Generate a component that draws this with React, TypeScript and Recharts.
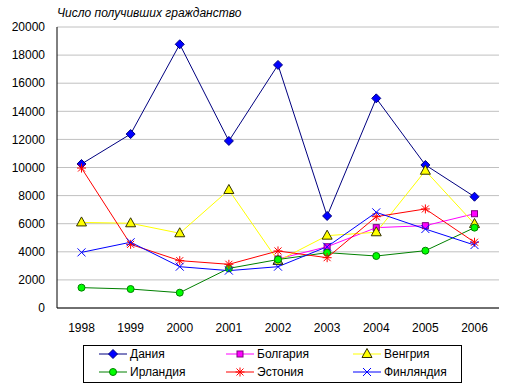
import { CartesianGrid, Line, LineChart, XAxis, YAxis } from "recharts";

const years = ["1998", "1999", "2000", "2001", "2002", "2003", "2004", "2005", "2006"];
const yTicks = [0, 2000, 4000, 6000, 8000, 10000, 12000, 14000, 16000, 18000, 20000];

const denmark = [10250, 12380, 18770, 11890, 17300, 6550, 14920, 10180, 7920];
const bulgaria = [null, null, null, null, 3490, 4360, 5720, 5860, 6710];
const hungary = [6090, 6030, 5320, 8400, 3350, 5150, 5390, 9770, 5980];
const ireland = [1450, 1350, 1090, 2820, 3450, 3940, 3700, 4080, 5720];
const estonia = [9960, 4530, 3370, 3110, 4060, 3580, 6500, 7050, 4680];
const finland = [3960, 4680, 2940, 2660, 2940, 4360, 6810, 5620, 4480];

const data = years.map((year, i) => ({
  year,
  dk: denmark[i],
  bg: bulgaria[i],
  hu: hungary[i],
  ie: ireland[i],
  ee: estonia[i],
  fi: finland[i],
}));

type Kind = "diamond" | "square" | "triangle" | "circle" | "star" | "cross";

function Marker({ kind, x, y }: { kind: Kind; x: number; y: number }) {
  switch (kind) {
    case "diamond":
      return (
        <polygon
          points={`${x},${y - 4.5} ${x + 4.5},${y} ${x},${y + 4.5} ${x - 4.5},${y}`}
          fill="#0000ff"
          stroke="#000080"
          strokeWidth={1}
        />
      );
    case "square":
      return <rect x={x - 3} y={y - 3} width={6} height={6} fill="#ff00ff" stroke="#800080" strokeWidth={1} />;
    case "triangle":
      return (
        <polygon
          points={`${x},${y - 5.5} ${x + 5},${y + 3.5} ${x - 5},${y + 3.5}`}
          fill="#ffff00"
          stroke="#333300"
          strokeWidth={1}
        />
      );
    case "circle":
      return <circle cx={x} cy={y} r={3.5} fill="#00ff00" stroke="#008000" strokeWidth={1} />;
    case "star":
      return (
        <g stroke="#ff0000" strokeWidth={1}>
          <line x1={x - 4.5} y1={y} x2={x + 4.5} y2={y} />
          <line x1={x} y1={y - 4.5} x2={x} y2={y + 4.5} />
          <line x1={x - 3.5} y1={y - 3.5} x2={x + 3.5} y2={y + 3.5} />
          <line x1={x - 3.5} y1={y + 3.5} x2={x + 3.5} y2={y - 3.5} />
        </g>
      );
    default:
      return (
        <g stroke="#0000ff" strokeWidth={1}>
          <line x1={x - 4} y1={y - 4} x2={x + 4} y2={y + 4} />
          <line x1={x - 4} y1={y + 4} x2={x + 4} y2={y - 4} />
        </g>
      );
  }
}

const series: { key: string; name: string; line: string; kind: Kind }[] = [
  { key: "dk", name: "Дания", line: "#000080", kind: "diamond" },
  { key: "bg", name: "Болгария", line: "#ff00ff", kind: "square" },
  { key: "hu", name: "Венгрия", line: "#ffff00", kind: "triangle" },
  { key: "ie", name: "Ирландия", line: "#008000", kind: "circle" },
  { key: "ee", name: "Эстония", line: "#ff0000", kind: "star" },
  { key: "fi", name: "Финляндия", line: "#0000ff", kind: "cross" },
];

const legendCols = [99, 226, 353];
const legendRows = [354, 372];

const font = "'Liberation Sans', Arial, sans-serif";

export default function App() {
  return (
    <div style={{ position: "relative", width: 514, height: 390, fontFamily: font, background: "#fff" }}>
      <style>{`body{margin:0}`}</style>
      <div style={{ position: "absolute", left: 57, top: 6, fontSize: 12, fontStyle: "italic" }}>
        Число получивших гражданство
      </div>
      <LineChart width={514} height={390} data={data} margin={{ top: 27, right: 15, left: 0, bottom: 52 }}>
        <CartesianGrid vertical={false} stroke="#c0c0c0" />
        {/* gray frame on top and right */}
        <XAxis xAxisId="top" orientation="top" dataKey="year" height={0} stroke="#808080" tick={false} tickLine={false} />
        <YAxis yAxisId="right" orientation="right" domain={[0, 20000]} width={0} stroke="#808080" tick={false} tickLine={false} />
        <XAxis
          dataKey="year"
          stroke="#000"
          padding={{ left: 24.5, right: 24.5 }}
          tickLine={false}
          tickSize={0}
          tickMargin={15}
          height={30}
          interval={0}
          tick={{ fill: "#000", fontSize: 12, fontFamily: font }}
        />
        <YAxis
          domain={[0, 20000]}
          ticks={yTicks}
          width={57}
          stroke="#000"
          tickLine={false}
          tickSize={0}
          tickMargin={12}
          interval={0}
          tick={{ fill: "#000", fontSize: 12, fontFamily: font }}
        />
        {series.map((s) => (
          <Line
            key={s.key}
            dataKey={s.key}
            name={s.name}
            stroke={s.line}
            strokeWidth={1}
            isAnimationActive={false}
            dot={(p: any) =>
              p.cy == null || p.value == null ? (
                <g key={`${s.key}-${p.index}`} />
              ) : (
                <g key={`${s.key}-${p.index}`}>
                  <Marker kind={s.kind} x={p.cx} y={p.cy} />
                </g>
              )
            }
          />
        ))}
      </LineChart>
      <svg width={514} height={390} style={{ position: "absolute", left: 0, top: 0, pointerEvents: "none" }}>
        <rect x={83.5} y={345.5} width={378} height={37} fill="#fff" stroke="#000" />
        {series.map((s, i) => {
          const x = legendCols[i % 3];
          const y = legendRows[Math.floor(i / 3)];
          return (
            <g key={s.key}>
              <line x1={x} y1={y} x2={x + 28} y2={y} stroke={s.line} />
              <Marker kind={s.kind} x={x + 14} y={y} />
              <text x={x + 31} y={y + 4} fontSize={12} fontFamily={font} fill="#000">
                {s.name}
              </text>
            </g>
          );
        })}
      </svg>
    </div>
  );
}
